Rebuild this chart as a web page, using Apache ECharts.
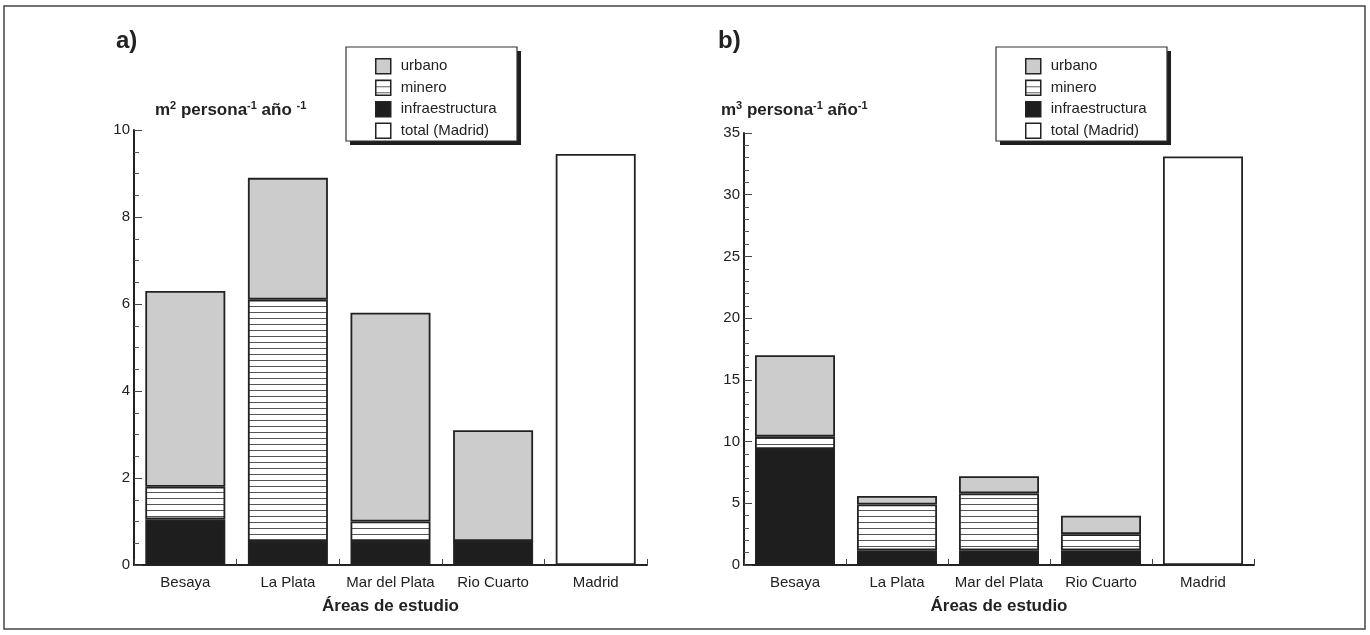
<!DOCTYPE html>
<html>
<head>
<meta charset="utf-8">
<script src="https://cdn.jsdelivr.net/npm/echarts@6/dist/echarts.min.js"></script>
<style>
html,body{margin:0;padding:0;background:#fff;}
#chart{width:1370px;height:635px;}
</style>
</head>
<body>
<div id="chart"></div>
<script>
// ---------- data ----------
const categories = ['Besaya', 'La Plata', 'Mar del Plata', 'Rio Cuarto', 'Madrid'];
const seriesNames = ['urbano', 'minero', 'infraestructura', 'total (Madrid)'];
// a) m2 persona-1 año-1
const areaInfra  = [1.05, 0.55, 0.55, 0.55, null];
const areaMinero = [0.75, 5.55, 0.45, 0, null];
const areaUrbano = [4.5, 2.8, 4.8, 2.55, null];
const areaTotal  = [null, null, null, null, 9.45];
// b) m3 persona-1 año-1
const volInfra  = [9.4, 1.2, 1.2, 1.2, null];
const volMinero = [1.0, 3.7, 4.6, 1.3, null];
const volUrbano = [6.6, 0.7, 1.4, 1.5, null];
const volTotal  = [null, null, null, null, 33.1];
// axis ticks
const areaAxis = {min: 0, max: 10, interval: 2, minorSplit: 4};
const volAxis  = {min: 0, max: 35, interval: 5, minorSplit: 5};
const xTitle = 'Áreas de estudio';

// ---------- styles ----------
const FONT = '"Liberation Sans", Arial, Helvetica, sans-serif';
const DARK = '#222';
const hatch = document.createElement('canvas');
hatch.width = 4; hatch.height = 6;
(function(){
  const c = hatch.getContext('2d');
  c.fillStyle = '#fff'; c.fillRect(0, 0, 4, 6);
  c.fillStyle = '#555'; c.fillRect(0, 0, 4, 1);
})();
const colors = {
  'urbano': '#cccccc',
  'minero': {image: hatch, repeat: 'repeat'},
  'infraestructura': '#1e1e1e',
  'total (Madrid)': '#ffffff'
};

function makeSeries(idx, infra, minero, urbano, total) {
  const list = [['infraestructura', infra], ['minero', minero], ['urbano', urbano], ['total (Madrid)', total]];
  return list.map(([name, data]) => ({
    name: name,
    type: 'bar',
    stack: 's' + idx,
    xAxisIndex: idx,
    yAxisIndex: idx,
    barWidth: 80,
    data: data,
    itemStyle: {color: colors[name], borderColor: DARK, borderWidth: 1.8},
    emphasis: {disabled: true}
  }));
}

function xAxis(gi) {
  return {
    type: 'category', gridIndex: gi, data: categories,
    axisLine: {lineStyle: {color: DARK, width: 2}},
    axisTick: {show: true, inside: true, length: 6, lineStyle: {color: '#444', width: 1}},
    axisLabel: {interval: 0, color: DARK, fontSize: 15, fontFamily: FONT, margin: 10},
    name: xTitle, nameLocation: 'middle', nameGap: 33,
    nameTextStyle: {color: DARK, fontSize: 17, fontWeight: 'bold', fontFamily: FONT}
  };
}
function yAxis(gi, ax) {
  return {
    type: 'value', gridIndex: gi, min: ax.min, max: ax.max, interval: ax.interval,
    splitLine: {show: false},
    axisLine: {show: true, lineStyle: {color: DARK, width: 2}},
    axisTick: {show: true, inside: true, length: 8, lineStyle: {color: '#444', width: 1}},
    minorTick: {show: true, splitNumber: ax.minorSplit, length: 5, lineStyle: {color: '#555', width: 1}},
    axisLabel: {color: DARK, fontSize: 15, fontFamily: FONT, margin: 4}
  };
}
function legend(left) {
  return {
    orient: 'vertical', left: left, top: 47,
    data: seriesNames,
    icon: 'rect', itemWidth: 15, itemHeight: 15, itemGap: 5,
    padding: [11, 20, 9, 29],
    borderWidth: 0,
    selectedMode: false,
    itemStyle: {borderColor: DARK, borderWidth: 1.5},
    textStyle: {color: DARK, fontSize: 15, lineHeight: 15, fontFamily: FONT, padding: [0, 0, 0, 5]}
  };
}
function legendBox(x, y) {
  return [
    {type: 'rect', silent: true, z: 1, shape: {x: x + 4, y: y + 4, width: 171, height: 94}, style: {fill: '#1e1e1e'}},
    {type: 'rect', silent: true, z: 2, shape: {x: x, y: y, width: 171, height: 94}, style: {fill: '#fff', stroke: '#333', lineWidth: 1.2}}
  ];
}
const rich = {
  b: {fontSize: 17, fontWeight: 'bold', fontFamily: FONT, color: DARK},
  s: {fontSize: 11, fontWeight: 'bold', fontFamily: FONT, color: DARK, padding: [0, 0, 9, 0]}
};

const option = {
  animation: false,
  backgroundColor: '#fff',
  title: [
    {text: 'a)', left: 111, top: 24, textStyle: {fontSize: 24, fontWeight: 'bold', fontFamily: FONT, color: DARK}},
    {text: 'b)', left: 713, top: 24, textStyle: {fontSize: 24, fontWeight: 'bold', fontFamily: FONT, color: DARK}},
    {text: '{b|m}{s|2}{b| persona}{s|-1}{b| año }{s|-1}', left: 150, top: 95, textStyle: {rich: rich}},
    {text: '{b|m}{s|3}{b| persona}{s|-1}{b| año}{s|-1}', left: 716, top: 95, textStyle: {rich: rich}}
  ],
  legend: [legend(346), legend(996)],
  grid: [
    {left: 134, top: 130, width: 513, height: 435},
    {left: 744, top: 133, width: 510, height: 432}
  ],
  xAxis: [xAxis(0), xAxis(1)],
  yAxis: [yAxis(0, areaAxis), yAxis(1, volAxis)],
  series: [].concat(
    makeSeries(0, areaInfra, areaMinero, areaUrbano, areaTotal),
    makeSeries(1, volInfra, volMinero, volUrbano, volTotal)
  ),
  graphic: [{
    type: 'rect', silent: true, z: 0,
    shape: {x: 4, y: 6, width: 1361, height: 623},
    style: {fill: 'none', stroke: '#444', lineWidth: 1.5}
  }].concat(legendBox(346, 47), legendBox(996, 47))
};

const chart = echarts.init(document.getElementById('chart'), null, {renderer: 'canvas'});
chart.setOption(option);
</script>
</body>
</html>
